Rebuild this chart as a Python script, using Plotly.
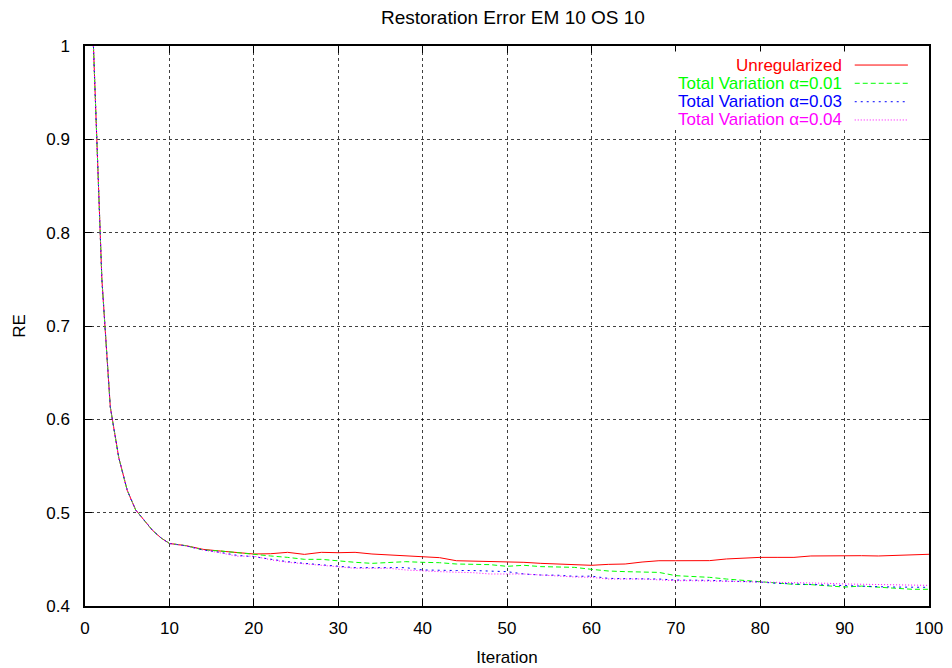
import plotly.graph_objects as go

iterations = [1, 2, 3, 4, 5, 6, 7, 8, 9, 10,
              12, 14, 16, 18, 20, 22, 24, 26, 28, 30,
              32, 34, 36, 38, 40, 42, 44, 46, 48, 50,
              52, 54, 56, 58, 60, 62, 64, 66, 68, 70,
              72, 74, 76, 78, 80, 82, 84, 86, 88, 90,
              92, 94, 96, 98, 100]

early = [1.0, 0.75, 0.613, 0.559, 0.524, 0.503, 0.492, 0.481, 0.473, 0.467]

unregularized = early + [
    0.4646, 0.4607, 0.4589, 0.4571, 0.4557, 0.4560, 0.4575, 0.4553, 0.4575, 0.4571,
    0.4575, 0.4557, 0.4546, 0.4543, 0.4528, 0.4518, 0.4485, 0.4482, 0.4475, 0.4468,
    0.4468, 0.4457, 0.4450, 0.4443, 0.4436, 0.4446, 0.4450, 0.4471, 0.4485, 0.4485,
    0.4486, 0.4486, 0.4504, 0.4515, 0.4521, 0.4521, 0.4521, 0.4536, 0.4539, 0.4539,
    0.4539, 0.4536, 0.4543, 0.4546, 0.4554]

tv_001 = early + [
    0.4646, 0.4600, 0.4590, 0.4570, 0.4553, 0.4536, 0.4521, 0.4500, 0.4500, 0.4482,
    0.4468, 0.4457, 0.4468, 0.4475, 0.4468, 0.4464, 0.4450, 0.4450, 0.4443, 0.4425,
    0.4436, 0.4422, 0.4421, 0.4414, 0.4393, 0.4375, 0.4368, 0.4364, 0.4360, 0.4325,
    0.4318, 0.4307, 0.4289, 0.4275, 0.4257, 0.4243, 0.4232, 0.4229, 0.4218, 0.4203,
    0.4213, 0.4200, 0.4193, 0.4179, 0.4179]

tv_003 = early + [
    0.4643, 0.4600, 0.4575, 0.4543, 0.4528, 0.4500, 0.4475, 0.4457, 0.4443, 0.4428,
    0.4411, 0.4411, 0.4411, 0.4411, 0.4386, 0.4380, 0.4380, 0.4380, 0.4375, 0.4368,
    0.4343, 0.4332, 0.4330, 0.4318, 0.4320, 0.4296, 0.4293, 0.4293, 0.4289, 0.4278,
    0.4278, 0.4275, 0.4268, 0.4264, 0.4257, 0.4243, 0.4236, 0.4229, 0.4221, 0.4214,
    0.4211, 0.4207, 0.4203, 0.4200, 0.4200]

tv_004 = early + [
    0.4643, 0.4600, 0.4570, 0.4534, 0.4534, 0.4495, 0.4468, 0.4450, 0.4436, 0.4421,
    0.4404, 0.4404, 0.4404, 0.4386, 0.4375, 0.4368, 0.4362, 0.4357, 0.4343, 0.4343,
    0.4343, 0.4332, 0.4320, 0.4311, 0.4307, 0.4289, 0.4289, 0.4289, 0.4280, 0.4271,
    0.4271, 0.4268, 0.4266, 0.4264, 0.4257, 0.4253, 0.4250, 0.4246, 0.4243, 0.4236,
    0.4232, 0.4229, 0.4225, 0.4225, 0.4221]

series_names = ["Unregularized", "Total Variation α=0.01",
                "Total Variation α=0.03", "Total Variation α=0.04"]
series_values = [unregularized, tv_001, tv_003, tv_004]
colors = ["#ff0000", "#00ff00", "#0000ff", "#ff00ff"]
dashes = ["solid", "5px,3px", "2px,4px", "1px,2px"]

FONT = "Liberation Sans, Arial, Helvetica, sans-serif"

fig = go.Figure()
for name, vals, col, dsh in zip(series_names, series_values, colors, dashes):
    fig.add_trace(go.Scatter(x=iterations, y=vals, mode="lines", name=name,
                             line=dict(color=col, width=1, dash=dsh),
                             showlegend=False))

# blank key area (gnuplot hides grid behind the key)
fig.add_shape(type="rect", xref="paper", yref="paper",
              x0=0.6635, x1=0.995, y0=0.8536, y1=0.99,
              fillcolor="white", line=dict(width=0), layer="above")

# legend (gnuplot style: right-aligned coloured text, sample on the right)
leg_y = [0.966, 0.9334, 0.9005, 0.8679]
for name, col, dsh, yy in zip(series_names, colors, dashes, leg_y):
    fig.add_annotation(x=0.898, y=yy, xref="paper", yref="paper",
                       text=name, showarrow=False, xanchor="right", yanchor="middle",
                       borderpad=0,
                       font=dict(color=col, size=17, family=FONT))
    fig.add_shape(type="line", xref="paper", yref="paper",
                  x0=0.912, x1=0.975, y0=yy, y1=yy,
                  line=dict(color=col, width=1, dash=dsh), layer="above")

axis_common = dict(
    showline=True, linecolor="black", linewidth=1.5, mirror="allticks",
    ticks="inside", ticklen=7, tickwidth=1, tickcolor="black",
    showgrid=True, gridcolor="rgba(0,0,0,0.75)", gridwidth=1, griddash="dot",
    zeroline=False, automargin=False,
    tickfont=dict(size=17, family=FONT, color="black"),
)

fig.update_xaxes(range=[0, 100], dtick=10, tick0=0,
                 title=dict(text="Iteration", font=dict(size=17, family=FONT, color="black"),
                            standoff=14),
                 ticklabelstandoff=6, **axis_common)
fig.update_yaxes(range=[0.4, 1.0], dtick=0.1, tick0=0.4,
                 title=dict(text="RE", font=dict(size=17, family=FONT, color="black"),
                            standoff=16),
                 ticklabelstandoff=10, **axis_common)

fig.update_layout(
    width=952, height=668,
    margin=dict(l=85, r=23, t=46, b=62, autoexpand=False),
    paper_bgcolor="white", plot_bgcolor="white",
    title=dict(text="Restoration Error EM 10 OS 10", x=0.507, xref="paper",
               y=1 - 17 / 668, yref="container", yanchor="middle", xanchor="center",
               font=dict(size=19, family=FONT, color="black")),
    font=dict(family=FONT, color="black"),
)

fig.write_html("out.html")
